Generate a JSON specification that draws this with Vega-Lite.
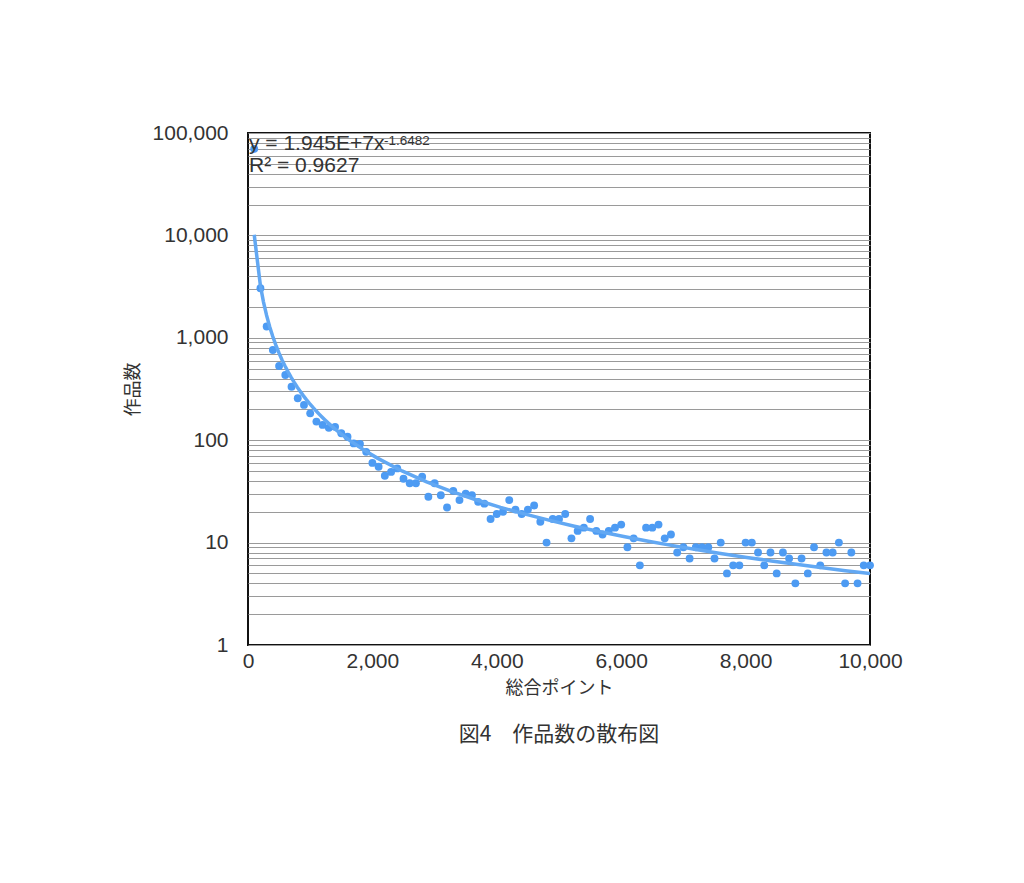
{
  "$schema": "https://vega.github.io/schema/vega-lite/v6.json",
  "autosize": "none",
  "width": 622,
  "height": 512,
  "padding": {"left": 248, "top": 133, "right": 154, "bottom": 238},
  "background": "white",
  "config": {
    "font": "Liberation Sans",
    "view": {"stroke": "#111111", "strokeWidth": 2}
  },
  "title": {
    "text": "図4　作品数の散布図",
    "orient": "bottom",
    "anchor": "middle",
    "font": "Noto Sans CJK JP",
    "fontSize": 21,
    "fontWeight": "normal",
    "color": "#333333",
    "offset": 27
  },
  "data": {
    "values": [
      {"x": 100, "y": 70000}, {"x": 200, "y": 3050}, {"x": 300, "y": 1290}, {"x": 400, "y": 760},
      {"x": 500, "y": 530}, {"x": 600, "y": 433}, {"x": 700, "y": 333}, {"x": 800, "y": 257},
      {"x": 900, "y": 221}, {"x": 1000, "y": 183}, {"x": 1100, "y": 152}, {"x": 1200, "y": 141},
      {"x": 1300, "y": 132}, {"x": 1400, "y": 135}, {"x": 1500, "y": 117}, {"x": 1600, "y": 108},
      {"x": 1700, "y": 93}, {"x": 1800, "y": 92}, {"x": 1900, "y": 77}, {"x": 2000, "y": 60},
      {"x": 2100, "y": 55}, {"x": 2200, "y": 45}, {"x": 2300, "y": 49}, {"x": 2400, "y": 53},
      {"x": 2500, "y": 42}, {"x": 2600, "y": 38}, {"x": 2700, "y": 38}, {"x": 2800, "y": 44},
      {"x": 2900, "y": 28}, {"x": 3000, "y": 38}, {"x": 3100, "y": 29}, {"x": 3200, "y": 22},
      {"x": 3300, "y": 32}, {"x": 3400, "y": 26}, {"x": 3500, "y": 30}, {"x": 3600, "y": 29},
      {"x": 3700, "y": 25}, {"x": 3800, "y": 24}, {"x": 3900, "y": 17}, {"x": 4000, "y": 19},
      {"x": 4100, "y": 20}, {"x": 4200, "y": 26}, {"x": 4300, "y": 21}, {"x": 4400, "y": 19},
      {"x": 4500, "y": 21}, {"x": 4600, "y": 23}, {"x": 4700, "y": 16}, {"x": 4800, "y": 10},
      {"x": 4900, "y": 17}, {"x": 5000, "y": 17}, {"x": 5100, "y": 19}, {"x": 5200, "y": 11},
      {"x": 5300, "y": 13}, {"x": 5400, "y": 14}, {"x": 5500, "y": 17}, {"x": 5600, "y": 13},
      {"x": 5700, "y": 12}, {"x": 5800, "y": 13}, {"x": 5900, "y": 14}, {"x": 6000, "y": 15},
      {"x": 6100, "y": 9}, {"x": 6200, "y": 11}, {"x": 6300, "y": 6}, {"x": 6400, "y": 14},
      {"x": 6500, "y": 14}, {"x": 6600, "y": 15}, {"x": 6700, "y": 11}, {"x": 6800, "y": 12},
      {"x": 6900, "y": 8}, {"x": 7000, "y": 9}, {"x": 7100, "y": 7}, {"x": 7200, "y": 9},
      {"x": 7300, "y": 9}, {"x": 7400, "y": 9}, {"x": 7500, "y": 7}, {"x": 7600, "y": 10},
      {"x": 7700, "y": 5}, {"x": 7800, "y": 6}, {"x": 7900, "y": 6}, {"x": 8000, "y": 10},
      {"x": 8100, "y": 10}, {"x": 8200, "y": 8}, {"x": 8300, "y": 6}, {"x": 8400, "y": 8},
      {"x": 8500, "y": 5}, {"x": 8600, "y": 8}, {"x": 8700, "y": 7}, {"x": 8800, "y": 4},
      {"x": 8900, "y": 7}, {"x": 9000, "y": 5}, {"x": 9100, "y": 9}, {"x": 9200, "y": 6},
      {"x": 9300, "y": 8}, {"x": 9400, "y": 8}, {"x": 9500, "y": 10}, {"x": 9600, "y": 4},
      {"x": 9700, "y": 8}, {"x": 9800, "y": 4}, {"x": 9900, "y": 6}, {"x": 10000, "y": 6}
    ]
  },
  "encoding": {
    "x": {
      "field": "x", "type": "quantitative",
      "scale": {"domain": [0, 10000], "nice": false},
      "axis": {
        "title": "総合ポイント", "values": [0, 2000, 4000, 6000, 8000, 10000],
        "labelExpr": "format(datum.value, ',')", "grid": false, "ticks": false, "domain": false,
        "labelFontSize": 21, "labelColor": "#333333", "labelPadding": 5,
        "labelFlush": false,
        "titleFont": "Noto Sans CJK JP",
        "titleFontSize": 18, "titleFontWeight": "normal", "titleColor": "#333333", "titlePadding": 8
      }
    },
    "y": {
      "field": "y", "type": "quantitative",
      "scale": {"type": "log", "domain": [1, 100000], "nice": false},
      "axis": {
        "title": "作品数",
        "values": [1,2,3,4,5,6,7,8,9,10,20,30,40,50,60,70,80,90,100,200,300,400,500,600,700,800,900,1000,2000,3000,4000,5000,6000,7000,8000,9000,10000,20000,30000,40000,50000,60000,70000,80000,90000,100000],
        "labelExpr": "indexof([1,10,100,1000,10000,100000], datum.value) >= 0 ? format(datum.value, ',') : ''",
        "grid": true, "gridColor": "#9a9a9a", "gridWidth": 1,
        "ticks": false, "domain": false,
        "labelFontSize": 21, "labelColor": "#333333", "labelPadding": 20, "labelFlush": false,
        "titleFont": "Noto Sans CJK JP",
        "titleFontSize": 18, "titleFontWeight": "normal", "titleColor": "#333333", "titlePadding": 10
      }
    }
  },
  "layer": [
    {
      "mark": {"type": "point", "filled": true, "size": 62, "color": "#4d9bf3", "opacity": 1}
    },
    {
      "transform": [{"regression": "y", "on": "x", "method": "pow", "extent": [100, 10000]}],
      "mark": {"type": "line", "color": "#62a8f3", "strokeWidth": 3.5, "clip": true}
    },
    {
      "transform": [{"filter": "datum.x == 100"}],
      "mark": {"type": "text", "align": "left", "baseline": "alphabetic", "fontSize": 21, "color": "#333333", "dx": 1},
      "encoding": {"x": {"datum": 0}, "y": {"datum": 68200}, "text": {"value": "y = 1.945E+7x"}}
    },
    {
      "transform": [{"filter": "datum.x == 100"}],
      "mark": {"type": "text", "align": "left", "baseline": "alphabetic", "fontSize": 13.5, "color": "#333333", "dx": 136},
      "encoding": {"x": {"datum": 0}, "y": {"datum": 76400}, "text": {"value": "-1.6482"}}
    },
    {
      "transform": [{"filter": "datum.x == 100"}],
      "mark": {"type": "text", "align": "left", "baseline": "alphabetic", "fontSize": 21, "color": "#333333", "dx": 1},
      "encoding": {"x": {"datum": 0}, "y": {"datum": 41600}, "text": {"value": "R² = 0.9627"}}
    }
  ]
}
